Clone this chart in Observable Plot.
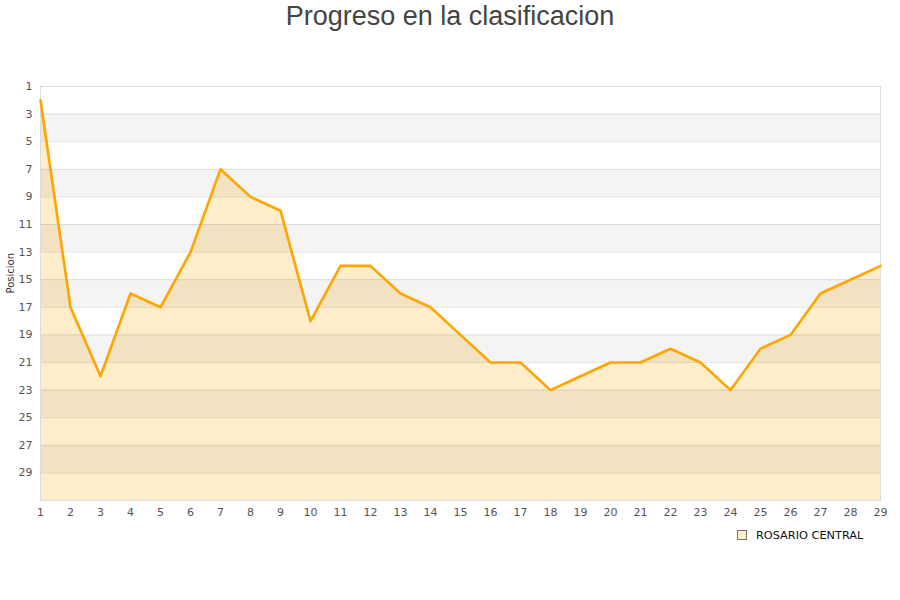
<!DOCTYPE html>
<html>
<head>
<meta charset="utf-8">
<script src="https://cdn.jsdelivr.net/npm/d3@7"></script>
<script src="https://cdn.jsdelivr.net/npm/@observablehq/plot@0.6"></script>
<style>
  body { margin: 0; background: #fff; font-family: "DejaVu Sans", sans-serif; }
  #wrap { position: relative; width: 900px; height: 600px; }
  #title { position: absolute; top: 0; left: 0; width: 900px; text-align: center;
    font-family: "Liberation Sans", Arial, sans-serif; font-size: 27px; color: #444; line-height: 32px; }
  #chart { position: absolute; top: 40px; left: 0; }
  #legend { position: absolute; top: 529px; left: 737px; font-size: 11.3px; color: #111; }
  #legend span.box { display: inline-block; width: 8px; height: 8px; background: #feedcb;
    border: 1px solid #777; margin-right: 9px; vertical-align: -1px; }
</style>
</head>
<body>
<div id="wrap">
  <div id="title">Progreso en la clasificacion</div>
  <div id="chart"></div>
  <div id="legend"><span class="box"></span>ROSARIO CENTRAL</div>
</div>
<script>
const team = "ROSARIO CENTRAL"
const fechas = d3.range(1, 30)
const posicion = [2, 17, 22, 16, 17, 13, 7, 9, 10, 18, 14, 14, 16, 17, 19, 21, 21, 23, 22, 21, 21, 20, 21, 23, 20, 19, 16, 15, 14]
const yTicks = [1, 3, 5, 7, 9, 11, 13, 15, 17, 19, 21, 23, 25, 27, 29]
const bandStarts = [3, 7, 11, 15, 19, 23, 27]

const data = fechas.map((f, i) => ({fecha: f, pos: posicion[i]}))

const chart = Plot.plot({
  width: 900,
  height: 485,
  marginTop: 46,
  marginLeft: 40,
  marginRight: 20,
  marginBottom: 25,
  style: {fontFamily: "DejaVu Sans, sans-serif", fontSize: "11px", color: "#555"},
  x: {domain: [1, 29], ticks: fechas, tickSize: 0, tickPadding: 8, label: null},
  y: {domain: [1, 31], reverse: true, ticks: yTicks, tickSize: 0, tickPadding: 8, label: null},
  marks: [
    Plot.areaY(data, {x: "fecha", y1: 31, y2: "pos", fill: "#feedcb"}),
    Plot.rect(bandStarts, {y1: d => d, y2: d => d + 2, fill: "#000", fillOpacity: 0.042}),
    Plot.ruleY(yTicks, {stroke: "#000", strokeOpacity: 0.1}),
    Plot.frame({stroke: "#dcdcdc"}),
    Plot.lineY(data, {x: "fecha", y: "pos", stroke: "#ffa500", strokeWidth: 2.6}),
    Plot.text(["Posicion"], {frameAnchor: "left", dx: -30, rotate: -90, fontSize: 10, fill: "#333"})
  ]
})
d3.select("#chart").append(() => chart)
</script>
</body>
</html>
